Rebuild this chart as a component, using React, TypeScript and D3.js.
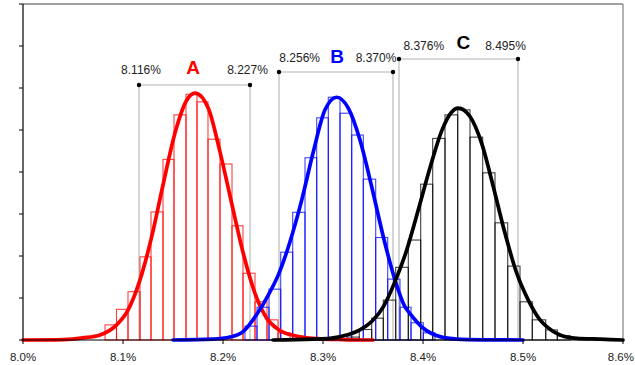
import React from "react";
import * as d3 from "d3";

// ---------- data ----------
const xTicks = [8.0, 8.1, 8.2, 8.3, 8.4, 8.5, 8.6];
const xTickLabels = ["8.0%", "8.1%", "8.2%", "8.3%", "8.4%", "8.5%", "8.6%"];
const yTicks = [0, 1, 2, 3, 4, 5, 6, 7, 8];

const seriesNames = ["A", "B", "C"];
const seriesColors = ["#ff0000", "#0000ff", "#000000"];

const binEdgesA = [8.082, 8.0935, 8.105, 8.117, 8.128, 8.14, 8.151, 8.163, 8.174, 8.185, 8.197, 8.209, 8.22, 8.232, 8.244, 8.255, 8.267];
const binValuesA = [0.36, 0.73, 1.15, 1.98, 3.05, 4.3, 5.36, 5.85, 5.67, 4.78, 4.19, 2.72, 1.59, 0.91, 0.48, 0.17];

const binEdgesB = [8.222, 8.234, 8.246, 8.2577, 8.2697, 8.282, 8.2937, 8.3053, 8.317, 8.3287, 8.3403, 8.3527, 8.3647, 8.377, 8.388, 8.4003, 8.412];
const binValuesB = [0.33, 0.78, 1.21, 2.09, 3.04, 4.34, 5.29, 5.78, 5.4, 4.88, 3.83, 2.44, 1.45, 0.78, 0.41, 0.17];

const binEdgesC = [8.324, 8.3363, 8.3487, 8.3603, 8.3727, 8.3853, 8.3977, 8.4097, 8.422, 8.4347, 8.447, 8.4597, 8.472, 8.4847, 8.497, 8.5093, 8.5227, 8.5343, 8.547];
const binValuesC = [0.07, 0.25, 0.52, 0.95, 1.73, 2.38, 3.71, 4.8, 5.36, 5.48, 4.83, 3.98, 2.79, 1.76, 0.91, 0.48, 0.24, 0.1];

const curveXA = [8.0, 8.04, 8.06, 8.077, 8.0937, 8.105, 8.117, 8.1287, 8.14, 8.152, 8.1637, 8.172, 8.1853, 8.197, 8.2087, 8.2203, 8.232, 8.2437, 8.2553, 8.272, 8.29, 8.32, 8.35];
const curveYA = [0, 0.01, 0.05, 0.12, 0.36, 0.71, 1.43, 2.46, 3.69, 4.93, 5.71, 5.88, 5.52, 4.48, 3.25, 2.06, 1.11, 0.52, 0.25, 0.1, 0.04, 0.01, 0];

const curveXB = [8.15, 8.19, 8.207, 8.22, 8.234, 8.2453, 8.2553, 8.267, 8.2787, 8.2903, 8.302, 8.3137, 8.3253, 8.337, 8.3487, 8.3603, 8.372, 8.382, 8.387, 8.4003, 8.417, 8.4337, 8.46, 8.5];
const curveYB = [0, 0.02, 0.07, 0.2, 0.62, 1.07, 1.55, 2.34, 3.33, 4.48, 5.48, 5.78, 5.52, 4.76, 3.65, 2.46, 1.43, 0.79, 0.63, 0.28, 0.08, 0.02, 0.005, 0];

const curveXC = [8.25, 8.29, 8.307, 8.3237, 8.337, 8.3487, 8.3603, 8.372, 8.3837, 8.3953, 8.407, 8.4187, 8.4287, 8.4353, 8.447, 8.4587, 8.4703, 8.482, 8.4937, 8.5053, 8.517, 8.5237, 8.537, 8.5537, 8.577, 8.6];
const curveYC = [0, 0.02, 0.04, 0.12, 0.24, 0.44, 0.79, 1.39, 2.14, 3.1, 4.1, 4.98, 5.43, 5.52, 5.32, 4.68, 3.65, 2.54, 1.59, 0.95, 0.48, 0.32, 0.12, 0.04, 0.02, 0];

const rangeLow = [8.116, 8.256, 8.376];
const rangeHigh = [8.227, 8.37, 8.495];
const rangeLowLabels = ["8.116%", "8.256%", "8.376%"];
const rangeHighLabels = ["8.227%", "8.370%", "8.495%"];

// ---------- layout ----------
const W = 635;
const H = 365;
const M = { left: 23, right: 12, top: 4, bottom: 25 };
const bracketY = [85, 72, 59];
const lowLabelDx = [2, 20.7, 24.8];
const highLabelDx = [-2.5, -17, -12.5];
const valueLabelY = [74, 62, 49.5];
const nameX = [193, 337, 463.3];
const nameY = [74, 62.5, 48.5];
const FONT = "'Liberation Sans', Arial, Helvetica, sans-serif";

export default function App() {
  const x = d3.scaleLinear().domain([8.0, 8.6]).range([M.left, W - M.right]);
  const y = d3.scaleLinear().domain([0, 8]).range([H - M.bottom, M.top]);
  const y0 = y(0);

  const bins = [
    { edges: binEdgesA, values: binValuesA },
    { edges: binEdgesB, values: binValuesB },
    { edges: binEdgesC, values: binValuesC },
  ];
  const curves = [
    { xs: curveXA, ys: curveYA },
    { xs: curveXB, ys: curveYB },
    { xs: curveXC, ys: curveYC },
  ];

  const line = d3
    .line<[number, number]>()
    .x((d) => x(d[0]))
    .y((d) => y(d[1]))
    .curve(d3.curveMonotoneX);

  return (
    <svg
      width={W}
      height={H}
      style={{ position: "absolute", left: 0, top: 0, background: "#fff" }}
      fontFamily={FONT}
    >
      <rect x={0} y={0} width={W} height={H} fill="#fff" />
      {/* frame top & right */}
      <line x1={x(8.0)} x2={x(8.6)} y1={y(8)} y2={y(8)} stroke="#808080" strokeWidth={1.5} />
      <line x1={x(8.6)} x2={x(8.6)} y1={y(8)} y2={y0} stroke="#808080" strokeWidth={1.2} />

      {/* range markers (vertical gray lines) */}
      {seriesNames.map((n, i) => (
        <g key={"rv" + n}>
          <line x1={x(rangeLow[i])} x2={x(rangeLow[i])} y1={bracketY[i]} y2={y0} stroke="#c4c4c4" strokeWidth={1.4} />
          <line x1={x(rangeHigh[i])} x2={x(rangeHigh[i])} y1={bracketY[i]} y2={y0} stroke="#c4c4c4" strokeWidth={1.4} />
        </g>
      ))}

      {/* histograms */}
      {bins.map((b, si) => (
        <g key={"h" + si} fill="none" stroke={seriesColors[si]} strokeWidth={1.1} strokeOpacity={0.75}>
          {b.values.map((v, j) => (
            <rect
              key={j}
              x={x(b.edges[j])}
              y={y(v)}
              width={x(b.edges[j + 1]) - x(b.edges[j])}
              height={y0 - y(v)}
            />
          ))}
        </g>
      ))}

      {/* fitted curves */}
      {curves.map((c, si) => (
        <path
          key={"c" + si}
          d={line(c.xs.map((xv, k) => [xv, c.ys[k]] as [number, number])) || ""}
          fill="none"
          stroke={seriesColors[si]}
          strokeWidth={3.7}
          strokeLinejoin="round"
          strokeLinecap="round"
        />
      ))}

      {/* axes */}
      <line x1={x(8.0)} x2={x(8.6)} y1={y0} y2={y0} stroke="#000" strokeWidth={1.2} />
      <line x1={x(8.0)} x2={x(8.0)} y1={y(8)} y2={y0} stroke="#000" strokeWidth={1.2} />
      {yTicks.map((t) => (
        <line key={"yt" + t} x1={x(8.0) - 4} x2={x(8.0)} y1={y(t)} y2={y(t)} stroke="#000" strokeWidth={1} />
      ))}
      {xTicks.map((t, i) => {
        const last = i === xTicks.length - 1;
        return (
          <g key={"xt" + t}>
            <line x1={x(t)} x2={x(t)} y1={y0} y2={y0 + 4} stroke="#000" strokeWidth={1} />
            <text
              x={last ? W - 1 : x(t)}
              y={y0 + 21}
              textAnchor={last ? "end" : "middle"}
              fontSize={11.5}
              fill="#222"
            >
              {xTickLabels[i]}
            </text>
          </g>
        );
      })}

      {/* brackets and labels */}
      {seriesNames.map((n, i) => (
        <g key={"br" + n}>
          <line x1={x(rangeLow[i])} x2={x(rangeHigh[i])} y1={bracketY[i]} y2={bracketY[i]} stroke="#b4b4b4" strokeWidth={1.2} />
          <circle cx={x(rangeLow[i])} cy={bracketY[i]} r={2.2} fill="#000" />
          <circle cx={x(rangeHigh[i])} cy={bracketY[i]} r={2.2} fill="#000" />
          <text x={x(rangeLow[i]) + lowLabelDx[i]} y={valueLabelY[i]} textAnchor="middle" fontSize={12} fill="#222">
            {rangeLowLabels[i]}
          </text>
          <text x={x(rangeHigh[i]) + highLabelDx[i]} y={valueLabelY[i]} textAnchor="middle" fontSize={12} fill="#222">
            {rangeHighLabels[i]}
          </text>
          <text x={nameX[i]} y={nameY[i]} textAnchor="middle" fontSize={19} fontWeight="bold" fill={seriesColors[i]}>
            {n}
          </text>
        </g>
      ))}
    </svg>
  );
}
